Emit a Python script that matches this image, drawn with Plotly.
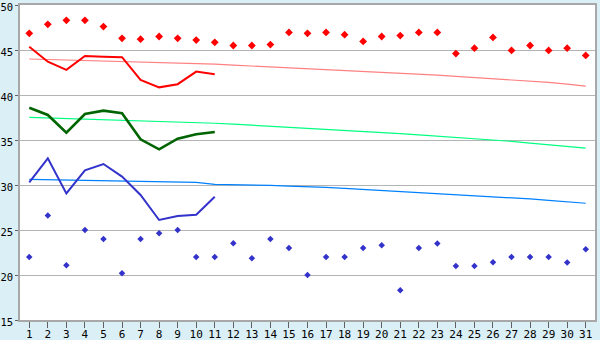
import plotly.graph_objects as go

days = list(range(1, 32))

red_pts = [46.85, 47.85, 48.3, 48.3, 47.6, 46.3, 46.2, 46.5, 46.3, 46.1,
           45.85, 45.5, 45.5, 45.6, 46.95, 46.85, 46.95, 46.7, 45.95, 46.5,
           46.6, 46.95, 46.95, 44.6, 45.2, 46.4, 44.95, 45.5, 44.95, 45.2, 44.4]
red_line = [45.37, 43.7, 42.8, 44.33, 44.25, 44.2, 41.67, 40.85, 41.2, 42.6, 42.3]
red_trend = [44.0, 43.95, 43.9, 43.85, 43.8, 43.75, 43.7, 43.65, 43.6, 43.5,
             43.42, 43.32, 43.22, 43.12, 43.02, 42.95, 42.86, 42.76, 42.65, 42.54,
             42.43, 42.32, 42.2, 42.07, 41.95, 41.83, 41.7, 41.55, 41.4, 41.2, 40.98]

green_line = [38.59, 37.78, 35.81, 37.89, 38.26, 37.97, 35.08, 33.97, 35.15, 35.63, 35.89]
green_trend = [37.52, 37.46, 37.4, 37.34, 37.28, 37.22, 37.16, 37.1, 37.03, 36.95,
               36.86, 36.76, 36.65, 36.54, 36.42, 36.3, 36.18, 36.05, 35.97, 35.85,
               35.7, 35.56, 35.43, 35.3, 35.15, 35.0, 34.85, 34.66, 34.47, 34.3, 34.1]

blue_pts = [22.0, 26.6, 21.07, 25.0, 24.0, 20.2, 24.0, 24.63, 25.0, 22.0,
            22.0, 23.52, 21.86, 24.0, 23.0, 20.0, 22.0, 22.0, 23.0, 23.3,
            18.3, 23.0, 23.5, 21.0, 21.0, 21.41, 22.0, 22.0, 22.0, 21.4, 22.86]
blue_line = [30.3, 32.97, 29.07, 31.63, 32.33, 30.93, 28.89, 26.11, 26.56, 26.7, 28.7]
blue_trend = [30.63, 30.59, 30.55, 30.52, 30.48, 30.45, 30.41, 30.37, 30.33, 30.3,
              30.07, 30.05, 29.99, 29.95, 29.87, 29.83, 29.74, 29.63, 29.52, 29.41,
              29.3, 29.19, 29.05, 28.97, 28.85, 28.74, 28.63, 28.45, 28.3, 28.1, 27.97]

fig = go.Figure()
fig.add_trace(go.Scatter(x=days, y=red_trend, mode="lines",
                         line=dict(color="#FF8080", width=1.2)))
fig.add_trace(go.Scatter(x=days, y=green_trend, mode="lines",
                         line=dict(color="#00FF80", width=1.2)))
fig.add_trace(go.Scatter(x=days, y=blue_trend, mode="lines",
                         line=dict(color="#0080FF", width=1.2)))
fig.add_trace(go.Scatter(x=days[:len(red_line)], y=red_line, mode="lines",
                         line=dict(color="#FF0000", width=2)))
fig.add_trace(go.Scatter(x=days[:len(green_line)], y=green_line, mode="lines",
                         line=dict(color="#006400", width=2.6)))
fig.add_trace(go.Scatter(x=days[:len(blue_line)], y=blue_line, mode="lines",
                         line=dict(color="#3333CC", width=2)))
fig.add_trace(go.Scatter(x=days, y=red_pts, mode="markers",
                         marker=dict(symbol="diamond", size=6, color="#FF0000")))
fig.add_trace(go.Scatter(x=days, y=blue_pts, mode="markers",
                         marker=dict(symbol="diamond", size=5, color="#3333CC")))

fig.update_layout(
    width=600, height=340,
    margin=dict(l=20, r=5, t=5, b=20, autoexpand=False),
    paper_bgcolor="#DAEFF6",
    plot_bgcolor="#FFFFFF",
    showlegend=False,
    font=dict(family="DejaVu Sans Mono", size=11, color="#000000"),
)
fig.update_xaxes(
    range=[0.5, 31.5], tickmode="array", tickvals=days,
    ticktext=[str(d) for d in days],
    showgrid=False, zeroline=False, automargin=False,
    showline=True, linecolor="#A8A8A8", linewidth=1.5, mirror=True,
    ticks="outside", ticklen=6, tickcolor="#606060", tickwidth=1,
    ticklabelstandoff=-3, ticklabeloverflow="allow",
    tickfont=dict(size=11),
)
fig.update_yaxes(
    range=[15, 50], tick0=15, dtick=5,
    showgrid=True, gridcolor="#B4B4B4", gridwidth=1,
    zeroline=False, automargin=False,
    showline=True, linecolor="#A8A8A8", linewidth=1.5, mirror=True,
    ticks="outside", ticklen=3, tickcolor="#606060", tickwidth=1,
    ticklabeloverflow="allow", ticklabelshift=2,
    tickfont=dict(size=10.5),
)

fig.write_html("out.html")
